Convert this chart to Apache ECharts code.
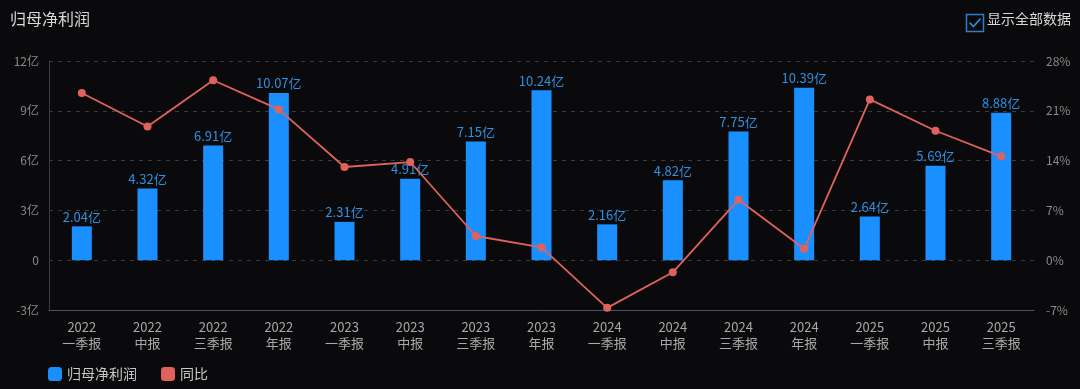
<!DOCTYPE html>
<html><head><meta charset="utf-8">
<script src="https://cdn.jsdelivr.net/npm/echarts@6/dist/echarts.min.js"></script>
<style>html,body{margin:0;padding:0;background:#0a0a0c;}#c{width:1080px;height:389px;}</style>
</head><body><div id="c"></div>
<script>
const categories = ['2022\n一季报','2022\n中报','2022\n三季报','2022\n年报','2023\n一季报','2023\n中报','2023\n三季报','2023\n年报','2024\n一季报','2024\n中报','2024\n三季报','2024\n年报','2025\n一季报','2025\n中报','2025\n三季报'];
const profit = [2.04,4.32,6.91,10.07,2.31,4.91,7.15,10.24,2.16,4.82,7.75,10.39,2.64,5.69,8.88];
const yoy = [23.5,18.8,25.3,21.2,13.1,13.8,3.4,1.8,-6.7,-1.7,8.5,1.6,22.6,18.2,14.6];
const leftTicks = {min:-3,max:12,interval:3};
const rightTicks = {min:-7,max:28,interval:7};
const FONT = '"Noto Sans CJK SC", "Noto Sans", sans-serif';
const BLUE = '#1a8fff', RED = '#e0625c';
const chart = echarts.init(document.getElementById('c'));
chart.setOption({
  backgroundColor:'#0a0a0c',
  textStyle:{fontFamily:FONT},
  title:{text:'归母净利润',left:5,top:6,textStyle:{color:'#d8d8d8',fontSize:16,fontWeight:'normal',fontFamily:FONT}},
  legend:{left:43,bottom:3,itemWidth:14,itemHeight:14,itemGap:24,icon:'roundRect',
    textStyle:{color:'#c8c8c8',fontSize:14,fontFamily:FONT},
    data:['归母净利润','同比']},
  grid:{left:49,right:46,top:61,bottom:79},
  xAxis:{type:'category',data:categories,
    axisLine:{show:true,onZero:false,lineStyle:{color:'#4a5366'}},axisTick:{show:false},
    axisLabel:{color:'#a8a8a8',fontSize:13,lineHeight:16,margin:9,fontFamily:FONT,interval:0}},
  yAxis:[
    {type:'value',min:leftTicks.min,max:leftTicks.max,interval:leftTicks.interval,
     axisLine:{show:true,lineStyle:{color:'#3a3d44'}},axisTick:{show:false},
     axisLabel:{color:'#8a8a8a',fontSize:12,margin:10,fontFamily:FONT,formatter:v=>v===0?'0':v+'亿'},
     splitLine:{show:true,lineStyle:{color:'#3a3a3a',type:[4,5]}}},
    {type:'value',min:rightTicks.min,max:rightTicks.max,interval:rightTicks.interval,
     axisLine:{show:false},axisTick:{show:false},
     axisLabel:{color:'#8a8a8a',fontSize:12,margin:12,fontFamily:FONT,formatter:v=>v+'%'},
     splitLine:{show:false}}
  ],
  series:[
    {name:'归母净利润',type:'bar',data:profit,barWidth:20,itemStyle:{color:BLUE},
     label:{show:true,position:'top',distance:3,color:'#2f8fe0',fontSize:13,fontFamily:FONT,formatter:p=>p.value+'亿'}},
    {name:'同比',type:'line',yAxisIndex:1,data:yoy,symbol:'circle',symbolSize:8,
     itemStyle:{color:RED},lineStyle:{color:RED,width:1.8}}
  ],
  graphic:[
    {type:'rect',left:964,top:12,shape:{width:17,height:17},style:{fill:'none',stroke:'#2a7fd0',lineWidth:1.5}},
    {type:'polyline',left:967,top:16,shape:{points:[[0,5],[4,9],[11,1]]},style:{fill:'none',stroke:'#2a8fe8',lineWidth:1.6}},
    {type:'text',left:987,top:12,style:{text:'显示全部数据',fill:'#d8d8d8',fontSize:14,fontFamily:FONT}}
  ]
});
</script></body></html>
